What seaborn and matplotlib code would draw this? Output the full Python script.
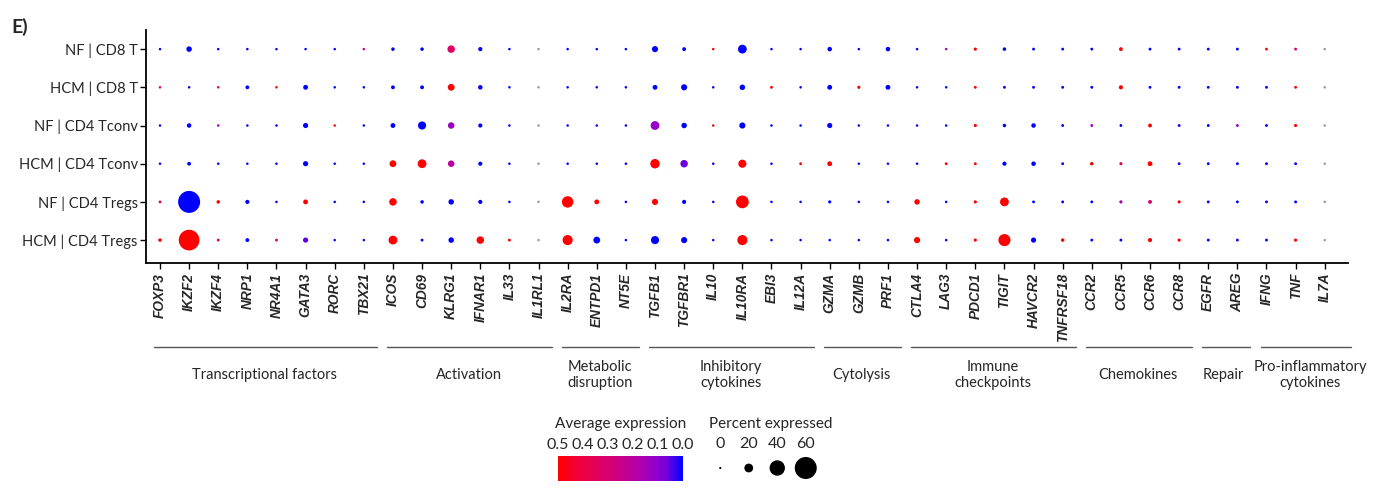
import numpy as np
import pandas as pd
import seaborn as sns
import matplotlib.pyplot as plt
import matplotlib.transforms as mtransforms
from matplotlib.colors import LinearSegmentedColormap, Normalize
from matplotlib.cm import ScalarMappable

nan = np.nan

# DATA
genes = ["FOXP3", "IKZF2", "IKZF4", "NRP1", "NR4A1", "GATA3", "RORC", "TBX21",
         "ICOS", "CD69", "KLRG1", "IFNAR1", "IL33", "IL1RL1",
         "IL2RA", "ENTPD1", "NT5E",
         "TGFB1", "TGFBR1", "IL10", "IL10RA", "EBI3", "IL12A",
         "GZMA", "GZMB", "PRF1",
         "CTLA4", "LAG3", "PDCD1", "TIGIT", "HAVCR2", "TNFRSF18",
         "CCR2", "CCR5", "CCR6", "CCR8",
         "EGFR", "AREG",
         "IFNG", "TNF", "IL7A"]

groups = ["NF | CD8 T", "HCM | CD8 T", "NF | CD4 Tconv",
          "HCM | CD4 Tconv", "NF | CD4 Tregs", "HCM | CD4 Tregs"]

category_names = ["Transcriptional factors", "Activation", "Metabolic\ndisruption",
                  "Inhibitory\ncytokines", "Cytolysis", "Immune\ncheckpoints",
                  "Chemokines", "Repair", "Pro-inflammatory\ncytokines"]
category_first = ["FOXP3", "ICOS", "IL2RA", "TGFB1", "GZMA", "CTLA4", "CCR2", "EGFR", "IFNG"]
category_last = ["TBX21", "IL1RL1", "NT5E", "IL12A", "PRF1", "TNFRSF18", "CCR8", "AREG", "IL7A"]

# percent expressed, one list per group (gene order as above)
pct_nf_cd8 = [1, 10, 1, 1, 1, 1, 1, 1, 4, 4, 16, 6, 1, 1, 1, 1, 1, 12, 5, 1, 20, 1, 1,
              7, 1, 7, 1, 1, 3, 4, 2, 2, 2, 5, 2, 2, 2, 2, 2, 2, 1]
pct_hcm_cd8 = [1, 1, 1, 5, 1, 8, 1, 1, 5, 5, 14, 7, 1, 1, 1, 1, 1, 8, 12, 1, 10, 2, 1,
               8, 3, 8, 1, 1, 2, 2, 2, 2, 2, 6, 2, 2, 2, 2, 2, 2, 1]
pct_nf_tconv = [1, 7, 1, 1, 1, 9, 1, 1, 8, 18, 13, 6, 1, 1, 1, 1, 1, 20, 10, 1, 12, 1, 1,
                9, 1, 1, 1, 1, 3, 4, 7, 2, 2, 2, 5, 2, 2, 2, 2, 3, 1]
pct_hcm_tconv = [1, 5, 1, 1, 1, 9, 1, 1, 14, 20, 13, 6, 1, 1, 1, 1, 1, 22, 16, 1, 18, 1, 2,
                 8, 1, 1, 1, 2, 2, 6, 7, 2, 4, 3, 8, 2, 2, 2, 2, 2, 1]
pct_nf_treg = [2, 60, 4, 6, 1, 8, 1, 1, 16, 4, 10, 6, 1, 1, 28, 8, 1, 12, 6, 1, 32, 1, 1,
               3, 1, 1, 10, 1, 3, 20, 2, 2, 2, 3, 5, 3, 2, 2, 2, 2, 1]
pct_hcm_treg = [4, 56, 2, 5, 2, 9, 1, 1, 20, 2, 10, 16, 2, 1, 24, 14, 1, 18, 12, 1, 24, 1, 1,
                1, 1, 1, 12, 1, 3, 30, 9, 4, 2, 2, 6, 3, 2, 2, 2, 3, 1]

# average expression (nan = not available, drawn grey)
avg_nf_cd8 = [0, 0, 0, 0, 0, 0, 0, 0.25, 0, 0, 0.33, 0, 0, nan, 0, 0, 0, 0, 0, 0.5, 0, 0, 0,
              0, 0, 0, 0, 0.15, 0.5, 0, 0, 0, 0, 0.5, 0, 0, 0, 0, 0.5, 0.3, nan]
avg_hcm_cd8 = [0.3, 0, 0.4, 0, 0.5, 0, 0, 0, 0, 0, 0.5, 0, 0, nan, 0, 0, 0, 0, 0, 0, 0, 0.5, 0,
               0, 0.5, 0, 0, 0, 0.5, 0, 0, 0, 0, 0.5, 0, 0, 0, 0, 0, 0.5, nan]
avg_nf_tconv = [0, 0, 0.15, 0, 0, 0, 0.5, 0, 0, 0, 0.125, 0, 0, nan, 0, 0, 0, 0.12, 0, 0.5, 0, 0, 0,
                0, 0, 0, 0, 0, 0.5, 0, 0, 0, 0.12, 0, 0.5, 0, 0, 0.12, 0, 0.5, nan]
avg_hcm_tconv = [0, 0, 0, 0, 0, 0, 0, 0, 0.5, 0.5, 0.2, 0, 0, nan, 0, 0, 0, 0.5, 0.06, 0, 0.5, 0, 0.5,
                 0.5, 0, 0, 0, 0.5, 0.5, 0, 0, 0, 0.5, 0.35, 0.5, 0, 0, 0, 0, 0, nan]
avg_nf_treg = [0.35, 0, 0.5, 0, 0, 0.5, 0, 0, 0.5, 0, 0, 0, 0, nan, 0.5, 0.5, 0, 0.5, 0, 0, 0.5, 0, 0,
               0, 0, 0, 0.5, 0, 0.5, 0.5, 0, 0, 0, 0.15, 0.3, 0.5, 0, 0, 0, 0, nan]
avg_hcm_treg = [0.5, 0.5, 0.3, 0, 0.3, 0.05, 0, 0, 0.5, 0, 0, 0.5, 0.5, nan, 0.5, 0, 0, 0, 0, 0, 0.5, 0, 0,
                0, 0, 0, 0.5, 0, 0.5, 0.5, 0, 0.5, 0, 0, 0.5, 0.5, 0, 0, 0, 0.5, nan]

legend_pcts = [0, 20, 40, 60]
cbar_ticks = [0.5, 0.4, 0.3, 0.2, 0.1, 0.0]

pct_rows = [pct_nf_cd8, pct_hcm_cd8, pct_nf_tconv, pct_hcm_tconv, pct_nf_treg, pct_hcm_treg]
avg_rows = [avg_nf_cd8, avg_hcm_cd8, avg_nf_tconv, avg_hcm_tconv, avg_nf_treg, avg_hcm_treg]


def dot_area(p):
    # radius-style scaling: diameter linear in percent (px -> pt^2)
    d_px = 2.2 + 0.33 * np.asarray(p, dtype=float)
    return (d_px * 0.72) ** 2


df = pd.DataFrame({
    "gene": genes * len(groups),
    "group": np.repeat(groups, len(genes)),
    "pct": np.concatenate(pct_rows),
    "avg": np.concatenate(avg_rows),
})
df["area"] = dot_area(df["pct"])

AREA_RANGE = (float(dot_area(0)), float(dot_area(70)))
# blue -> red interpolated in Lab space (like ggplot's gradient)
cmap = LinearSegmentedColormap.from_list(
    "bluered", ["#0000FF", "#7300E0", "#9A00C2", "#B500A5", "#CA0088",
                "#DA006C", "#E80050", "#F40031", "#FF0000"])

sns.set_theme(style="ticks")
plt.rcParams["font.family"] = ["Lato", "DejaVu Sans"]

fig = plt.figure(figsize=(13.88, 4.97), dpi=100)
ax = fig.add_axes([0.1052, 0.4708, 0.866, 0.4688])
ax.xaxis.update_units(genes)
ax.yaxis.update_units(groups)

sns.scatterplot(data=df[df["avg"].isna()], x="gene", y="group", size="area",
                sizes=AREA_RANGE, size_norm=AREA_RANGE, color="#9a9a9a",
                linewidth=0, legend=False, ax=ax)
sns.scatterplot(data=df.dropna(), x="gene", y="group", hue="avg", palette=cmap,
                hue_norm=(0, 0.5), size="area", sizes=AREA_RANGE, size_norm=AREA_RANGE,
                linewidth=0, legend=False, ax=ax)

ax.set_xlim(-0.48, 40.8)
ax.set_ylim(5.6, -0.5)
ax.set_xlabel("")
ax.set_ylabel("")
sns.despine(ax=ax)
for s in ["left", "bottom"]:
    ax.spines[s].set_linewidth(1.3)
    ax.spines[s].set_color("black")
ax.tick_params(axis="both", length=4, width=1, color="black", direction="out")
ax.tick_params(axis="x", rotation=90, pad=3)
ax.tick_params(axis="y", labelsize=10.5, pad=2)
for lbl in ax.get_xticklabels():
    lbl.set_family(["Liberation Sans", "DejaVu Sans"])
    lbl.set_fontweight("bold")
    lbl.set_fontstyle("italic")
    lbl.set_fontsize(9.8)

# category brackets under the gene labels
label_dx = [0.1, 0.1, 0.1, 0.1, 0.1, 0.1, 0.1, 0.0, 0.5]
trans = mtransforms.blended_transform_factory(ax.transData, ax.transAxes)
for name, g0, g1, dx in zip(category_names, category_first, category_last, label_dx):
    i0, i1 = genes.index(g0), genes.index(g1)
    x1 = i1 + (0.9 if g1 == genes[-1] else 0.45)
    ax.plot([i0 - 0.2, x1], [-0.36, -0.36], transform=trans, color="#555555",
            lw=1, clip_on=False)
    ax.text((i0 + i1) / 2 + dx, -0.481, name, transform=trans, ha="center", va="center",
            fontsize=10.5, linespacing=1.25)

fig.text(0.008, 0.945, "E)", fontsize=14, fontweight="bold", ha="left", va="center")

# colour legend
cax = fig.add_axes([558 / 1388, 1 - 481 / 497, 125 / 1388, 25 / 497])
cb = fig.colorbar(ScalarMappable(norm=Normalize(0, 0.5), cmap=cmap), cax=cax,
                  orientation="horizontal")
cb.outline.set_visible(False)
cax.set_xlim(0.5, 0.0)
cb.set_ticks(cbar_ticks)
cb.set_ticklabels([f"{t:.1f}" for t in cbar_ticks])
cax.tick_params(axis="x", top=True, bottom=True, labeltop=True, labelbottom=False,
                direction="in", color="white", length=4, width=0.8, labelsize=11.5, pad=3)
fig.text(621 / 1388, 1 - 424 / 497, "Average expression", ha="center", va="center", fontsize=11)

# size legend
lax = fig.add_axes([706 / 1388, 1 - 484 / 497, 114 / 1388, 32 / 497])
sns.scatterplot(x=np.arange(len(legend_pcts)), y=np.zeros(len(legend_pcts)),
                size=dot_area(legend_pcts), sizes=AREA_RANGE, size_norm=AREA_RANGE,
                color="black", linewidth=0, legend=False, ax=lax)
lax.set_xlim(-0.5, len(legend_pcts) - 0.5)
lax.set_ylim(-1, 1)
lax.axis("off")
for i, p in enumerate(legend_pcts):
    lax.text(i, 1.5, str(p), ha="center", va="center", fontsize=11.5)
fig.text(771 / 1388, 1 - 424 / 497, "Percent expressed", ha="center", va="center", fontsize=11)

fig.savefig("out.png", dpi=100)
